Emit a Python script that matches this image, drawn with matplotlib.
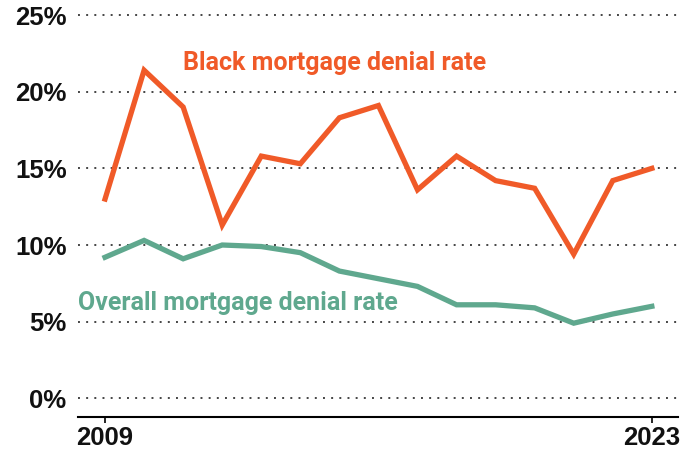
import matplotlib.pyplot as plt
from matplotlib.ticker import FuncFormatter

# Mortgage denial rates by year, in percent
years = list(range(2009, 2024))
black_rate = [13.0, 21.4, 19.0, 11.3, 15.8, 15.3, 18.3, 19.1, 13.6, 15.8, 14.2, 13.7, 9.4, 14.2, 15.0]
overall_rate = [9.2, 10.3, 9.1, 10.0, 9.9, 9.5, 8.3, 7.8, 7.3, 6.1, 6.1, 5.9, 4.9, 5.5, 6.0]

y_ticks = [0, 5, 10, 15, 20, 25]
x_ticks = [2009, 2023]

ORANGE = "#F05A28"
GREEN = "#5FA88E"

fig = plt.figure(figsize=(6.83, 4.54), dpi=100)
ax = fig.add_axes([77.7 / 683, 1 - 416.7 / 454, (678 - 77.7) / 683, (416.7 - 10) / 454])

ax.plot(years, black_rate, color=ORANGE, lw=3.8, solid_joinstyle="miter", zorder=3)
ax.plot(years, overall_rate, color=GREEN, lw=3.8, solid_joinstyle="miter", zorder=3)

ax.set_xlim(2008.30, 2023.67)
ax.set_ylim(-1.2, 25.33)

ax.set_yticks(y_ticks)
ax.yaxis.set_major_formatter(FuncFormatter(lambda v, p: f"{v:.0f}%"))
ax.set_xticks(x_ticks)

for s in ["top", "right", "left"]:
    ax.spines[s].set_visible(False)
ax.spines["bottom"].set_linewidth(1.5)

ax.yaxis.grid(True, color="#444444", lw=1.4, linestyle=(0, (1, 3.2)))
ax.set_axisbelow(True)

ax.tick_params(axis="y", length=0, pad=8)
ax.tick_params(axis="x", length=4, width=1.2, pad=3)
for lab in ax.get_yticklabels() + ax.get_xticklabels():
    lab.set_fontfamily("Liberation Sans")
    lab.set_fontweight("bold")
    lab.set_fontsize(18.5)
    lab.set_color("#111111")

ax.text(2011.0, 21.9, "Black mortgage denial rate", color=ORANGE,
        fontfamily="Roboto", fontweight="bold", fontsize=18, va="center", ha="left")
ax.text(2008.32, 6.2, "Overall mortgage denial rate", color=GREEN,
        fontfamily="Roboto", fontweight="bold", fontsize=18, va="center", ha="left")

fig.savefig("out.png", dpi=100)
